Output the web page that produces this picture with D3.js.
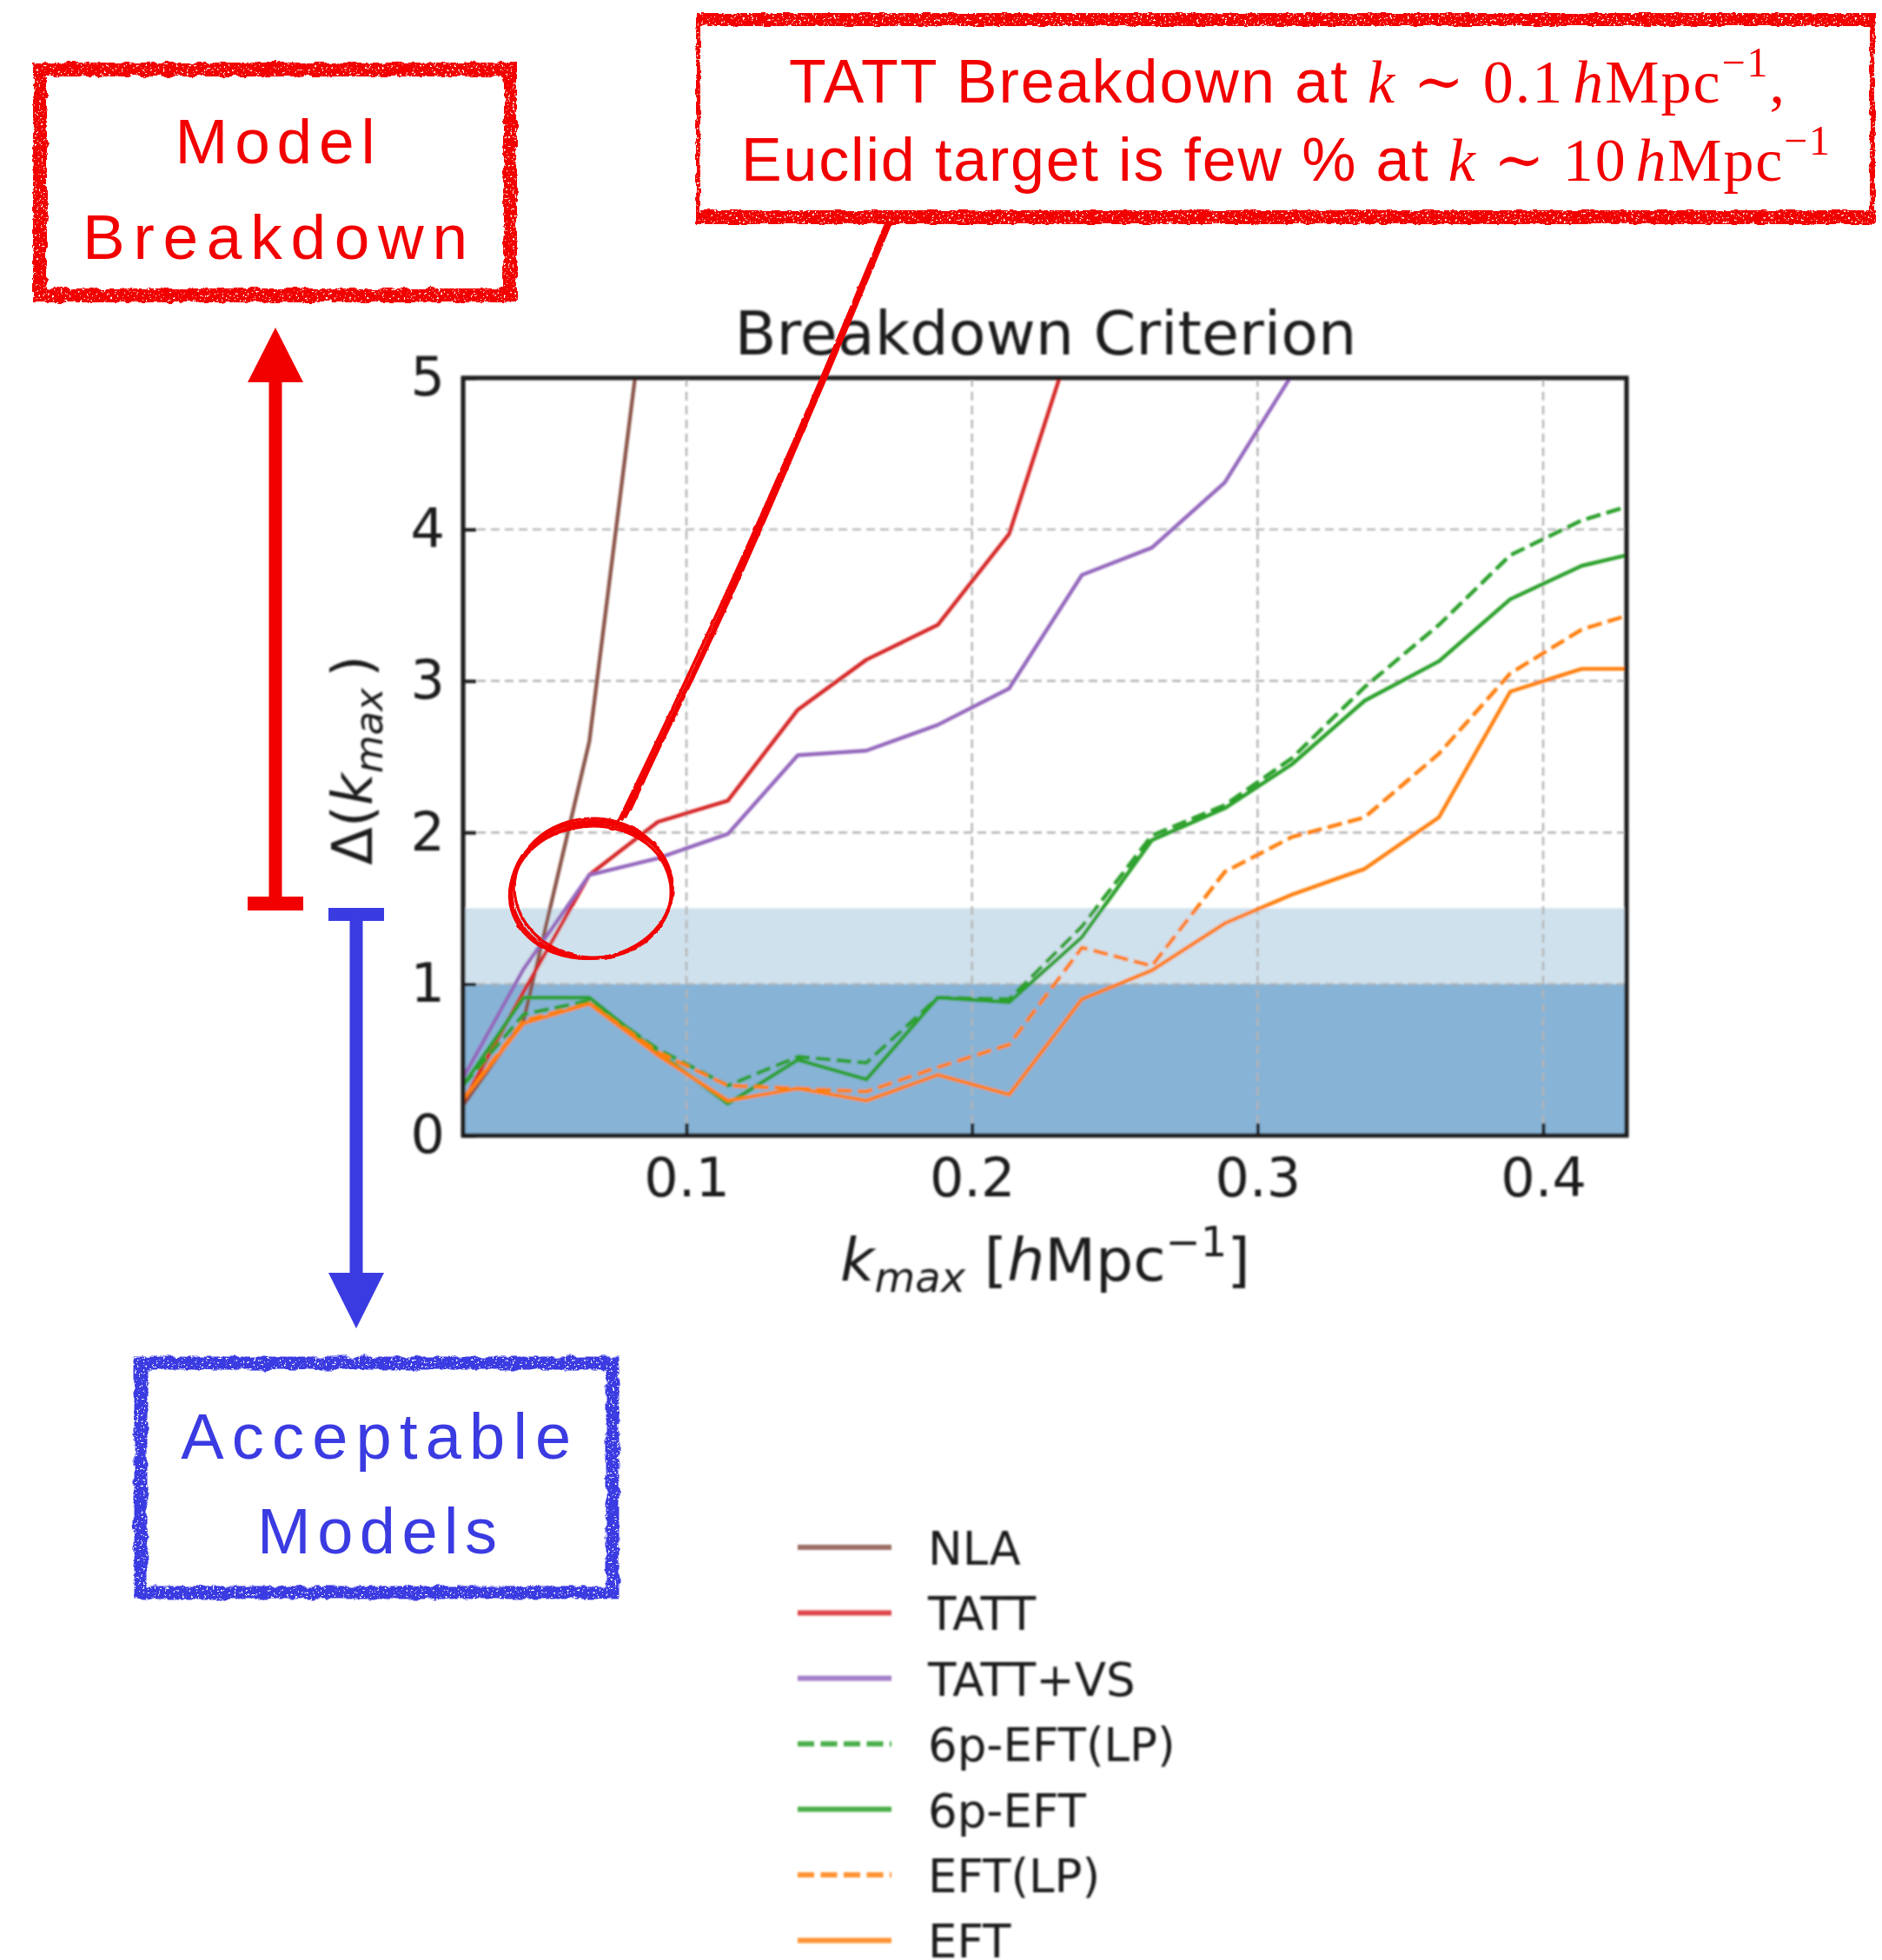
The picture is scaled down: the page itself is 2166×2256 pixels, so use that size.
<!DOCTYPE html>
<html>
<head>
<meta charset="utf-8">
<script src="https://cdn.jsdelivr.net/npm/d3@7"></script>
<style>
  html, body { margin: 0; padding: 0; background: #fff; }
  svg { display: block; }
</style>
</head>
<body>
<script>
// ---- data -------------------------------------------------------------
const kValues = [0.0218, 0.043, 0.066, 0.090, 0.1145, 0.139, 0.163, 0.188, 0.213,
                 0.2385, 0.263, 0.2885, 0.312, 0.3375, 0.3635, 0.3885, 0.4135, 0.4292];

const seriesNames = ["NLA", "TATT", "TATT+VS", "6p-EFT(LP)", "6p-EFT", "EFT(LP)", "EFT"];

const nla     = [0.20, 0.76, 2.60, 6.20];
const tatt    = [0.22, 0.95, 1.72, 2.07, 2.21, 2.81, 3.14, 3.37, 3.97, 5.46];
const tattVS  = [0.38, 1.10, 1.72, 1.83, 1.99, 2.51, 2.54, 2.71, 2.95, 3.70, 3.88, 4.31, 5.02, 5.90];
const eft6pLP = [0.33, 0.80, 0.89, 0.57, 0.33, 0.52, 0.48, 0.91, 0.90, 1.38, 1.98, 2.18, 2.49, 2.96, 3.37, 3.83, 4.06, 4.15];
const eft6p   = [0.33, 0.91, 0.91, 0.55, 0.21, 0.50, 0.37, 0.91, 0.88, 1.31, 1.95, 2.16, 2.45, 2.87, 3.13, 3.54, 3.76, 3.83];
const eftLP   = [0.24, 0.76, 0.87, 0.55, 0.33, 0.31, 0.29, 0.45, 0.60, 1.24, 1.12, 1.74, 1.97, 2.10, 2.52, 3.05, 3.34, 3.43];
const eft     = [0.24, 0.74, 0.87, 0.53, 0.23, 0.31, 0.23, 0.40, 0.27, 0.90, 1.09, 1.40, 1.59, 1.76, 2.10, 2.93, 3.08, 3.08];

const seriesColors = ["#8c564b", "#d62728", "#9467bd", "#2ca02c", "#2ca02c", "#ff7f0e", "#ff7f0e"];
const seriesDashed = [false, false, false, true, false, true, false];

const xTicks = [0.1, 0.2, 0.3, 0.4];
const xTickLabels = ["0.1", "0.2", "0.3", "0.4"];
const yTicks = [0, 1, 2, 3, 4, 5];
const yTickLabels = ["0", "1", "2", "3", "4", "5"];
const bandInner = [0, 1.0];
const bandOuter = [1.0, 1.5];

// ---- canvas -----------------------------------------------------------
const W = 2166, H = 2256;
const svg = d3.select("body").append("svg")
  .attr("width", W).attr("height", H).attr("viewBox", `0 0 ${W} ${H}`);
svg.append("rect").attr("width", W).attr("height", H).attr("fill", "#fff");

const defs = svg.append("defs");
const soft = defs.append("filter").attr("id", "soft")
  .attr("filterUnits", "userSpaceOnUse").attr("x", 0).attr("y", 0).attr("width", W).attr("height", H);
soft.append("feGaussianBlur").attr("stdDeviation", 0.8);

// rough, stamped-ink look for the hand-drawn annotation strokes
function grunge(id, seedA, seedB, disp, holes) {
  const f = defs.append("filter").attr("id", id)
    .attr("filterUnits", "userSpaceOnUse").attr("x", 0).attr("y", 0).attr("width", W).attr("height", H);
  f.append("feTurbulence").attr("type", "fractalNoise").attr("baseFrequency", 0.08)
    .attr("numOctaves", 3).attr("seed", seedA).attr("result", "n1");
  f.append("feDisplacementMap").attr("in", "SourceGraphic").attr("in2", "n1").attr("scale", disp)
    .attr("xChannelSelector", "R").attr("yChannelSelector", "G").attr("result", "d");
  if (holes) {
    f.append("feTurbulence").attr("type", "fractalNoise").attr("baseFrequency", 0.4)
      .attr("numOctaves", 2).attr("seed", seedB).attr("result", "n2");
    f.append("feColorMatrix").attr("in", "n2").attr("type", "matrix")
      .attr("values", "0 0 0 0 0  0 0 0 0 0  0 0 0 0 0  14 0 0 0 -3.9").attr("result", "m");
    f.append("feComposite").attr("in", "d").attr("in2", "m").attr("operator", "in");
  }
}
grunge("grungeA", 4, 9, 7, true);
grunge("grungeB", 11, 17, 7, true);
grunge("grungeC", 23, 5, 4, true);
grunge("sketch", 31, 2, 2.5, false);

// ---- chart --------------------------------------------------------------
const plot = { left: 533, right: 1872, top: 435, bottom: 1307 };
const x = d3.scaleLinear().domain([kValues[0], kValues[kValues.length - 1]]).range([plot.left, plot.right]);
const y = d3.scaleLinear().domain([0, 5]).range([plot.bottom, plot.top]);

defs.append("clipPath").attr("id", "plotClip").append("rect")
  .attr("x", plot.left).attr("y", plot.top)
  .attr("width", plot.right - plot.left).attr("height", plot.bottom - plot.top);

const chart = svg.append("g").attr("filter", "url(#soft)");
const chartFont = "'DejaVu Sans', 'Liberation Sans', sans-serif";
const ink = "#1c1c1c";

// shaded tolerance bands
chart.append("rect")
  .attr("x", plot.left).attr("width", plot.right - plot.left)
  .attr("y", y(bandOuter[1])).attr("height", y(bandOuter[0]) - y(bandOuter[1]))
  .attr("fill", "#cfe1ec");
chart.append("rect")
  .attr("x", plot.left).attr("width", plot.right - plot.left)
  .attr("y", y(bandInner[1])).attr("height", y(bandInner[0]) - y(bandInner[1]))
  .attr("fill", "#87b3d6");

// dashed grid
const grid = chart.append("g").attr("stroke", "#b4b4b4").attr("stroke-width", 2.4)
  .attr("stroke-dasharray", "10,6");
grid.selectAll("line.gx").data(xTicks).join("line").attr("class", "gx")
  .attr("x1", d => x(d)).attr("x2", d => x(d)).attr("y1", plot.top).attr("y2", plot.bottom);
grid.selectAll("line.gy").data(yTicks.filter(v => v > 0 && v < 5)).join("line").attr("class", "gy")
  .attr("y1", d => y(d)).attr("y2", d => y(d)).attr("x1", plot.left).attr("x2", plot.right);

// series lines
const line = d3.line().x(d => x(d.k)).y(d => y(d.v));
const allSeries = [nla, tatt, tattVS, eft6pLP, eft6p, eftLP, eft];
const lines = chart.append("g").attr("clip-path", "url(#plotClip)");
allSeries.forEach((vals, i) => {
  const pts = vals.map((v, j) => ({ k: kValues[j], v }));
  lines.append("path").datum(pts)
    .attr("d", line)
    .attr("fill", "none")
    .attr("stroke", seriesColors[i])
    .attr("stroke-width", 4.4)
    .attr("stroke-linejoin", "round")
    .attr("stroke-dasharray", seriesDashed[i] ? "17,7" : null);
});

// axes (inward ticks on left and bottom)
const xAxis = d3.axisBottom(x).tickValues(xTicks).tickFormat((d, i) => xTickLabels[i])
  .tickSize(-14).tickPadding(26);
const yAxis = d3.axisLeft(y).tickValues(yTicks).tickFormat((d, i) => yTickLabels[i])
  .tickSize(-15).tickPadding(21);

const gx = chart.append("g").attr("transform", `translate(0,${plot.bottom})`).call(xAxis);
const gy = chart.append("g").attr("transform", `translate(${plot.left},0)`).call(yAxis);
[gx, gy].forEach(g => {
  g.select(".domain").remove();
  g.selectAll(".tick line").attr("stroke", ink).attr("stroke-width", 4);
  g.selectAll(".tick text").attr("fill", ink).style("font-family", chartFont).style("font-size", "62px");
});

// frame
chart.append("rect")
  .attr("x", plot.left).attr("y", plot.top)
  .attr("width", plot.right - plot.left).attr("height", plot.bottom - plot.top)
  .attr("fill", "none").attr("stroke", ink).attr("stroke-width", 5);

// title
chart.append("text")
  .attr("x", (plot.left + plot.right) / 2 + 1).attr("y", 408)
  .attr("text-anchor", "middle").attr("fill", ink)
  .style("font-family", chartFont).style("font-size", "70px")
  .text("Breakdown Criterion");

// x label: k_max [h Mpc^-1]
const xl = chart.append("text")
  .attr("x", 1203).attr("y", 1474)
  .attr("text-anchor", "middle").attr("fill", ink)
  .style("font-family", chartFont).style("font-size", "68px");
xl.append("tspan").style("font-style", "italic").text("k");
xl.append("tspan").style("font-style", "italic").style("font-size", "48px").attr("dy", 13).text("max");
xl.append("tspan").attr("dy", -13).text(" [");
xl.append("tspan").style("font-style", "italic").text("h");
xl.append("tspan").text("Mpc");
xl.append("tspan").style("font-size", "48px").attr("dy", -28).text("\u22121");
xl.append("tspan").attr("dy", 28).text("]");

// y label: Δ(k_max)
const yl = chart.append("text")
  .attr("transform", "translate(428,875) rotate(-90)")
  .attr("text-anchor", "middle").attr("fill", ink)
  .style("font-family", chartFont).style("font-size", "64px");
yl.append("tspan").text("\u0394(");
yl.append("tspan").style("font-style", "italic").text("k");
yl.append("tspan").style("font-style", "italic").style("font-size", "45px").attr("dy", 12).text("max");
yl.append("tspan").attr("dy", -12).text("\u2009)");

// legend
const legend = chart.append("g");
const legendTop = 1781, legendStep = 75.4;
seriesNames.forEach((name, i) => {
  const cy = legendTop + i * legendStep;
  legend.append("line")
    .attr("x1", 918).attr("x2", 1026).attr("y1", cy).attr("y2", cy)
    .attr("stroke", seriesColors[i]).attr("stroke-opacity", 0.85).attr("stroke-width", 6)
    .attr("stroke-dasharray", seriesDashed[i] ? "19,7.5" : null);
  legend.append("text")
    .attr("x", 1068).attr("y", cy + 20)
    .attr("fill", ink)
    .style("font-family", chartFont).style("font-size", "53px")
    .text(name);
});

// ---- annotations ------------------------------------------------------
const RED = "#f20000", BLUE = "#3b3be2";
const boxFont = "'Liberation Sans', Arial, sans-serif";
const mathFont = "'Liberation Serif', 'DejaVu Serif', serif";

// "Model Breakdown" stamp
svg.append("rect").attr("x", 46).attr("y", 80).attr("width", 541).attr("height", 260)
  .attr("fill", "none").attr("stroke", RED).attr("stroke-width", 16).attr("filter", "url(#grungeA)");
[["Model", 188, 230], ["Breakdown", 298, 443]].forEach(([t, by, len]) => {
  svg.append("text").attr("x", 316.6 - len / 2).attr("y", by)
    .attr("textLength", len).attr("lengthAdjust", "spacing")
    .attr("fill", RED).style("font-family", boxFont).style("font-size", "73px").text(t);
});

// "Acceptable Models" stamp
svg.append("rect").attr("x", 162).attr("y", 1569).attr("width", 543).attr("height", 264)
  .attr("fill", "none").attr("stroke", BLUE).attr("stroke-width", 15).attr("filter", "url(#grungeB)");
[["Acceptable", 1679, 449, 432.7], ["Models", 1788, 276, 434]].forEach(([t, by, len, cx]) => {
  svg.append("text").attr("x", cx - len / 2).attr("y", by)
    .attr("textLength", len).attr("lengthAdjust", "spacing")
    .attr("fill", BLUE).style("font-family", boxFont).style("font-size", "74px").text(t);
});

// vertical arrows
const arrows = svg.append("g");
// red: up towards breakdown
arrows.append("rect").attr("x", 285).attr("y", 1032).attr("width", 64).attr("height", 16).attr("fill", RED);
arrows.append("rect").attr("x", 309.5).attr("y", 436).attr("width", 15).attr("height", 604).attr("fill", RED);
arrows.append("path").attr("d", "M317,377 L349,440 L285,440 Z").attr("fill", RED);
// blue: down towards acceptable
arrows.append("rect").attr("x", 378).attr("y", 1045).attr("width", 64).attr("height", 15).attr("fill", BLUE);
arrows.append("rect").attr("x", 402.5).attr("y", 1052).attr("width", 15).attr("height", 418).attr("fill", BLUE);
arrows.append("path").attr("d", "M410,1529 L442,1465 L378,1465 Z").attr("fill", BLUE);

// callout box
const callout = svg.append("g").attr("fill", RED).attr("filter", "url(#grungeC)");
callout.append("rect").attr("x", 801).attr("y", 15).attr("width", 1358).attr("height", 15);
callout.append("rect").attr("x", 801).attr("y", 242).attr("width", 1358).attr("height", 16);
callout.append("rect").attr("x", 801).attr("y", 15).attr("width", 5).attr("height", 243);
callout.append("rect").attr("x", 2152).attr("y", 15).attr("width", 6).attr("height", 243);

function calloutLine(yBase, xStart, len, words, num) {
  const t = svg.append("text").attr("x", xStart).attr("y", yBase)
    .attr("textLength", len).attr("lengthAdjust", "spacing")
    .attr("fill", RED).style("font-family", boxFont).style("font-size", "70px");
  t.append("tspan").text(words + " ");
  t.append("tspan").style("font-family", mathFont).style("font-style", "italic").style("font-size", "70px").text("k");
  t.append("tspan").style("font-family", mathFont).style("font-size", "70px").text(" \u223C " + num);
  t.append("tspan").style("font-family", mathFont).style("font-style", "italic").style("font-size", "70px").attr("dx", 10).text("h");
  t.append("tspan").style("font-family", mathFont).style("font-size", "70px").text("Mpc");
  t.append("tspan").style("font-family", mathFont).style("font-size", "48px").attr("dy", -30).text("\u22121");
  return t;
}
const l1 = calloutLine(118, 908, 1146, "TATT Breakdown at", "0.1");
l1.append("tspan").style("font-family", mathFont).style("font-size", "70px").attr("dy", 30).text(",");
calloutLine(208, 853, 1253, "Euclid target is few % at", "10");

// hand-drawn circle around the TATT kink and the pointer to the callout
const sketch = svg.append("g").attr("fill", "none").attr("stroke", RED).attr("filter", "url(#sketch)");
const ellipses = [
  [681, 1024, 93, 79, -4, 3.6],
  [683, 1022, 91, 80, 3, 3.0],
  [680, 1026, 94, 77, -8, 3.0],
  [682, 1025, 90, 78, 6, 2.6],
  [681, 1027, 92, 76, -2, 3.2]
];
ellipses.forEach(([cx, cy, rx, ry, rot, sw]) => {
  sketch.append("ellipse").attr("cx", cx).attr("cy", cy).attr("rx", rx).attr("ry", ry)
    .attr("transform", `rotate(${rot},${cx},${cy})`).attr("stroke-width", sw);
});
const strands = [
  [[712, 945], [828, 700], [945, 436], [1021, 257]],
  [[716, 943], [832, 700], [948, 436], [1023, 257]],
  [[720, 940], [835, 700], [950, 436], [1025, 257]],
  [[726, 932], [830, 703], [944, 438], [1019, 258]]
];
const strandLine = d3.line().curve(d3.curveCatmullRom);
strands.forEach((s, i) => {
  sketch.append("path").attr("d", strandLine(s)).attr("stroke-width", i === 3 ? 2.6 : 3.4)
    .attr("stroke-linecap", "round");
});
</script>
</body>
</html>
